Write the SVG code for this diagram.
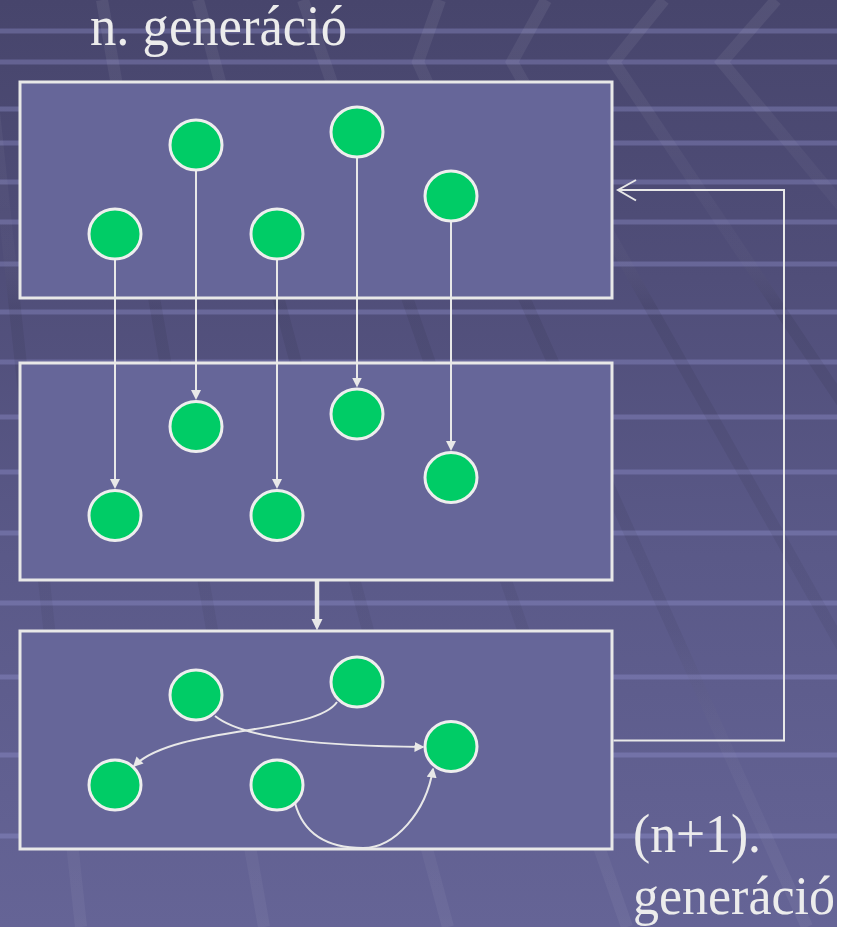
<svg xmlns="http://www.w3.org/2000/svg" width="856" height="927" viewBox="0 0 856 927">
  <defs>
    <linearGradient id="bg" x1="0" y1="0" x2="0" y2="927" gradientUnits="userSpaceOnUse">
      <stop offset="0" stop-color="#47456c"/>
      <stop offset="0.3" stop-color="#504e79"/>
      <stop offset="0.6" stop-color="#5a5988"/>
      <stop offset="1" stop-color="#656496"/>
    </linearGradient>
    <linearGradient id="band" x1="0" y1="0" x2="0" y2="927" gradientUnits="userSpaceOnUse">
      <stop offset="0" stop-color="#ffffff" stop-opacity="0.07"/>
      <stop offset="0.25" stop-color="#ffffff" stop-opacity="0.02"/>
      <stop offset="0.33" stop-color="#000000" stop-opacity="0.07"/>
      <stop offset="0.68" stop-color="#000000" stop-opacity="0.05"/>
      <stop offset="0.85" stop-color="#ffffff" stop-opacity="0.03"/>
      <stop offset="1" stop-color="#ffffff" stop-opacity="0.05"/>
    </linearGradient>
    <marker id="tri" viewBox="0 0 10 10" markerWidth="10" markerHeight="10" refX="7" refY="5" orient="auto" markerUnits="userSpaceOnUse">
      <path d="M0,0 L10,5 L0,10 z" fill="#e8e8e8"/>
    </marker>
    <marker id="triC" viewBox="0 0 10 10" markerWidth="10" markerHeight="10" refX="8.5" refY="5" orient="auto" markerUnits="userSpaceOnUse">
      <path d="M0,0 L10,5 L0,10 z" fill="#e8e8e8"/>
    </marker>
    <style>
      .box { fill: #666699; stroke: #e8e8e8; stroke-width: 3; }
      .node { fill: #00cc66; stroke: #eeeeee; stroke-width: 3; }
      .wire { fill: none; stroke: #e8e8e8; stroke-width: 2; }
      .lbl { font-family: "Liberation Serif", "Times New Roman", serif; font-size: 54px; fill: #ececec; }
      .stripe { fill: #9c9cdc; opacity: 0.33; }
      .bnd { stroke: url(#band); stroke-width: 12; fill: none; }
    </style>
  </defs>

  <g id="background">
    <rect x="0" y="0" width="837" height="927" fill="url(#bg)"/>
    <g id="stripes">
      <rect class="stripe" x="0" y="28.5" width="837" height="5"/>
      <rect class="stripe" x="0" y="59.5" width="837" height="5"/>
      <rect class="stripe" x="0" y="106.5" width="837" height="5"/>
      <rect class="stripe" x="0" y="140.5" width="837" height="5"/>
      <rect class="stripe" x="0" y="179.5" width="837" height="5"/>
      <rect class="stripe" x="0" y="219.5" width="837" height="5"/>
      <rect class="stripe" x="0" y="261.5" width="837" height="5"/>
      <rect class="stripe" x="0" y="309.5" width="837" height="5"/>
      <rect class="stripe" x="0" y="359.5" width="837" height="5"/>
      <rect class="stripe" x="0" y="414.5" width="837" height="5"/>
      <rect class="stripe" x="0" y="469.5" width="837" height="5"/>
      <rect class="stripe" x="0" y="530.5" width="837" height="5"/>
      <rect class="stripe" x="0" y="600.5" width="837" height="5"/>
      <rect class="stripe" x="0" y="674.5" width="837" height="5"/>
      <rect class="stripe" x="0" y="752.5" width="837" height="5"/>
      <rect class="stripe" x="0" y="833.5" width="837" height="5"/>
    </g>
    <g id="bands">
      <path class="bnd" d="M-18,0 L81,927"/>
      <path class="bnd" d="M102,0 L264,927"/>
      <path class="bnd" d="M198,0 L448,927"/>
      <path class="bnd" d="M303,0 L627,927"/>
      <path class="bnd" d="M440,0 L418,62 L807,927"/>
      <path class="bnd" d="M546,0 L512,62 L1000,927"/>
      <path class="bnd" d="M664,0 L614,62 L1194,927"/>
      <path class="bnd" d="M776,0 L722,62 L1440,927"/>
    </g>
    <rect x="837" y="0" width="19" height="927" fill="#ffffff"/>
  </g>

  <g id="label-n">
    <text class="lbl" x="90" y="45" style="font-size:57px" textLength="257" lengthAdjust="spacingAndGlyphs">n. generáció</text>
  </g>
  <g id="label-n1">
    <text class="lbl" x="633" y="852" textLength="128" lengthAdjust="spacingAndGlyphs">(n+1).</text>
    <text class="lbl" x="633" y="914" textLength="202" lengthAdjust="spacingAndGlyphs">generáció</text>
  </g>

  <g id="box1"><rect class="box" x="20" y="82" width="592" height="216"/></g>
  <g id="box2"><rect class="box" x="20" y="363" width="592" height="217"/></g>
  <g id="box3"><rect class="box" x="20" y="631" width="592" height="218"/></g>

  <g id="connectors">
    <line class="wire" x1="115" y1="260" x2="115" y2="486" marker-end="url(#tri)"/>
    <line class="wire" x1="196" y1="171" x2="196" y2="397" marker-end="url(#tri)"/>
    <line class="wire" x1="277" y1="260" x2="277" y2="486" marker-end="url(#tri)"/>
    <line class="wire" x1="357" y1="158" x2="357" y2="384.5" marker-end="url(#tri)"/>
    <line class="wire" x1="451" y1="222" x2="451" y2="448" marker-end="url(#tri)"/>
    <g id="thick-arrow">
      <line x1="317" y1="581" x2="317" y2="620" stroke="#e8e8e8" stroke-width="4.5"/>
      <path d="M311.5,619 L322.5,619 L317,630.5 z" fill="#e8e8e8"/>
    </g>
    <g id="feedback">
      <path class="wire" d="M613.5,740.5 H784 V190 H618" stroke-width="2.5"/>
      <path class="wire" d="M636,180 L618,190 L636,200.5" stroke-width="2.5"/>
    </g>
    <path class="wire" d="M215,716 C245,740 330,746 423,747" marker-end="url(#triC)"/>
    <path class="wire" d="M337,702 C315,735 175,725 134,766" marker-end="url(#triC)"/>
    <path class="wire" d="M295,803 C305,840 335,848 363,848 C395,848 426,812 433,769" marker-end="url(#triC)"/>
  </g>

  <g id="nodes">
    <g id="n1-a"><ellipse class="node" cx="115" cy="234" rx="26" ry="25"/></g>
    <g id="n1-b"><ellipse class="node" cx="196" cy="145" rx="26" ry="25"/></g>
    <g id="n1-c"><ellipse class="node" cx="277" cy="234" rx="26" ry="25"/></g>
    <g id="n1-d"><ellipse class="node" cx="357" cy="132" rx="26" ry="25"/></g>
    <g id="n1-e"><ellipse class="node" cx="451" cy="196" rx="26" ry="25"/></g>

    <g id="n2-a"><ellipse class="node" cx="115" cy="515.5" rx="26" ry="25"/></g>
    <g id="n2-b"><ellipse class="node" cx="196" cy="426.5" rx="26" ry="25"/></g>
    <g id="n2-c"><ellipse class="node" cx="277" cy="515.5" rx="26" ry="25"/></g>
    <g id="n2-d"><ellipse class="node" cx="357" cy="414" rx="26" ry="25"/></g>
    <g id="n2-e"><ellipse class="node" cx="451" cy="477.5" rx="26" ry="25"/></g>

    <g id="n3-a"><ellipse class="node" cx="196" cy="695" rx="26" ry="25"/></g>
    <g id="n3-b"><ellipse class="node" cx="357" cy="682" rx="26" ry="25"/></g>
    <g id="n3-c"><ellipse class="node" cx="451" cy="746.5" rx="26" ry="25"/></g>
    <g id="n3-d"><ellipse class="node" cx="115" cy="785" rx="26" ry="25"/></g>
    <g id="n3-e"><ellipse class="node" cx="277" cy="785" rx="26" ry="25"/></g>
  </g>
</svg>
